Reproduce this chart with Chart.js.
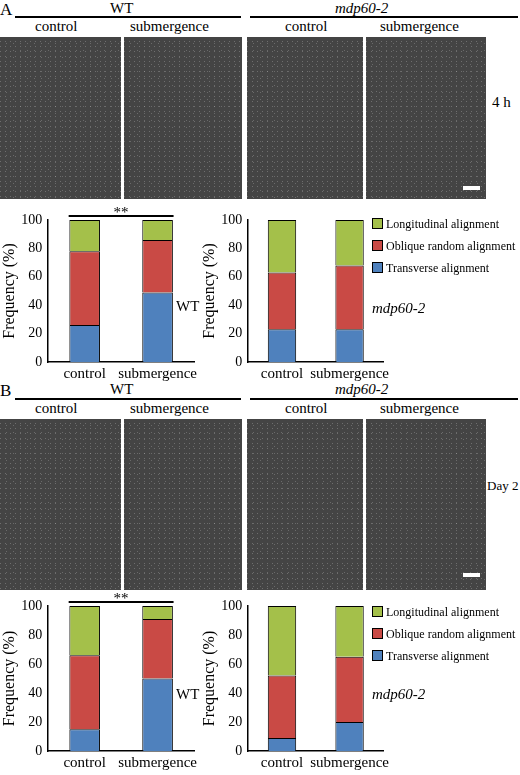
<!DOCTYPE html>
<html lang="en">
<head>
<meta charset="UTF-8">
<title>Microtubule alignment</title>
<script src="https://cdn.jsdelivr.net/npm/chart.js@4.4.0/dist/chart.umd.min.js"></script>
<style>
  body { margin:0; width:520px; height:775px; position:relative; background:#fff; font-family:"Liberation Serif", "Times New Roman", serif; overflow:hidden; }
  .abs { position:absolute; }
  .img { position:absolute; background:#444; background-image:linear-gradient(60deg, rgba(210,210,210,.3) 1px, transparent 1px), linear-gradient(-50deg, rgba(220,220,220,.25) 1px, transparent 1px); background-size:5px 5px, 7px 7px; }
  .t { position:absolute; font-size:15px; color:#000; white-space:nowrap; font-family:"Liberation Serif", serif; }
  .line { position:absolute; height:2px; background:#000; }
  .leg { position:absolute; font-size:12px; white-space:nowrap; font-family:"Liberation Serif", serif; }
  .leg span { display:inline-block; width:9px; height:9px; border:1px solid #000; margin-right:3px; vertical-align:-1px; }
  .cv { position:absolute; }
</style>
</head>
<body>
<!-- panel A header -->
<div class="t" style="left:0;top:0;font-size:17px">A</div>
<div class="t" style="left:110px;top:0">WT</div>
<div class="line" style="left:15px;top:16px;width:226px"></div>
<div class="t" style="left:335px;top:0;font-style:italic">mdp60-2</div>
<div class="line" style="left:250px;top:16px;width:268px"></div>
<div class="t" style="left:35px;top:18px">control</div>
<div class="t" style="left:130px;top:18px">submergence</div>
<div class="t" style="left:285px;top:18px">control</div>
<div class="t" style="left:380px;top:18px">submergence</div>
<div class="img" style="left:0;top:37px;width:121px;height:162px"></div>
<div class="img" style="left:124px;top:37px;width:118px;height:162px"></div>
<div class="img" style="left:247px;top:37px;width:116px;height:162px"></div>
<div class="img" style="left:366px;top:37px;width:120px;height:162px"></div>
<div class="abs" style="left:463px;top:186px;width:17px;height:4px;background:#fff"></div>
<div class="t" style="left:492px;top:94px">4 h</div>

<!-- panel B header -->
<div class="t" style="left:0;top:381px;font-size:17px">B</div>
<div class="t" style="left:110px;top:381px">WT</div>
<div class="line" style="left:15px;top:398px;width:226px"></div>
<div class="t" style="left:335px;top:381px;font-style:italic">mdp60-2</div>
<div class="line" style="left:250px;top:398px;width:268px"></div>
<div class="t" style="left:35px;top:400px">control</div>
<div class="t" style="left:130px;top:400px">submergence</div>
<div class="t" style="left:285px;top:400px">control</div>
<div class="t" style="left:380px;top:400px">submergence</div>
<div class="img" style="left:0;top:419px;width:121px;height:171px"></div>
<div class="img" style="left:124px;top:419px;width:118px;height:171px"></div>
<div class="img" style="left:247px;top:419px;width:116px;height:171px"></div>
<div class="img" style="left:366px;top:419px;width:120px;height:171px"></div>
<div class="abs" style="left:463px;top:573px;width:17px;height:4px;background:#fff"></div>
<div class="t" style="left:487px;top:478px;font-size:13px">Day 2</div>

<canvas class="cv" id="a1" style="left:0;top:206px"></canvas>
<canvas class="cv" id="a2" style="left:200px;top:206px"></canvas>
<canvas class="cv" id="b1" style="left:0;top:592px"></canvas>
<canvas class="cv" id="b2" style="left:200px;top:592px"></canvas>

<div class="t" style="left:176px;top:298px">WT</div>
<div class="t" style="left:372px;top:300px;font-style:italic">mdp60-2</div>
<div class="t" style="left:176px;top:686px">WT</div>
<div class="t" style="left:372px;top:686px;font-style:italic">mdp60-2</div>

<div class="leg" style="left:372px;top:217px"><span style="background:#a4c04a"></span>Longitudinal alignment</div>
<div class="leg" style="left:372px;top:239px"><span style="background:#c94a45"></span>Oblique random alignment</div>
<div class="leg" style="left:372px;top:261px"><span style="background:#4f81bd"></span>Transverse alignment</div>
<div class="leg" style="left:372px;top:605px"><span style="background:#a4c04a"></span>Longitudinal alignment</div>
<div class="leg" style="left:372px;top:627px"><span style="background:#c94a45"></span>Oblique random alignment</div>
<div class="leg" style="left:372px;top:649px"><span style="background:#4f81bd"></span>Transverse alignment</div>

<script>
const categories = ['control', 'submergence'];
const yTicks = [0, 20, 40, 60, 80, 100];

// panel A (4 h): transverse / oblique / longitudinal, in percent
const aWtTransverse = [26, 49];
const aWtOblique = [52, 37];
const aWtLongitudinal = [22, 14];
const aMdpTransverse = [23, 23];
const aMdpOblique = [40, 45];
const aMdpLongitudinal = [37, 32];

// panel B (day 2)
const bWtTransverse = [15, 50];
const bWtOblique = [51, 41];
const bWtLongitudinal = [34, 9];
const bMdpTransverse = [9, 20];
const bMdpOblique = [43, 45];
const bMdpLongitudinal = [48, 35];

const colors = ['#4f81bd', '#c94a45', '#a4c04a'];

// draws the ** bracket over the WT bars
const starsPlugin = {
  id: 'stars',
  afterDraw(chart) {
    if (!chart.options.plugins.stars.on) return;
    const ctx = chart.ctx;
    const x = chart.scales.x;
    const y = chart.scales.y.getPixelForValue(100) - 4;
    ctx.save();
    ctx.strokeStyle = '#000';
    ctx.lineWidth = 2;
    ctx.beginPath();
    ctx.moveTo(x.getPixelForValue(0) - 16, y);
    ctx.lineTo(x.getPixelForValue(1) + 16, y);
    ctx.stroke();
    ctx.fillStyle = '#000';
    ctx.font = '15px "Liberation Serif"';
    ctx.textAlign = 'center';
    ctx.fillText('**', (x.getPixelForValue(0) + x.getPixelForValue(1)) / 2, y + 1);
    ctx.restore();
  }
};

function makeChart(id, t, o, l, stars, w, h) {
  const el = document.getElementById(id);
  el.width = w; el.height = h;
  el.style.width = w + 'px'; el.style.height = h + 'px';
  new Chart(el, {
    type: 'bar',
    data: {
      labels: categories,
      datasets: [t, o, l].map((d, i) => ({
        data: d, backgroundColor: colors[i], borderColor: '#000', borderWidth: 1,
        barPercentage: 0.42, categoryPercentage: 1
      }))
    },
    options: {
      responsive: false, animation: false,
      layout: { padding: { top: 14, right: 0 } },
      plugins: { legend: { display: false }, tooltip: { enabled: false }, stars: { on: stars } },
      scales: {
        x: { stacked: true, grid: { display: false, drawTicks: false },
             border: { color: '#000', width: 1.5 },
             ticks: { color: '#000', font: { family: 'Liberation Serif', size: 15 }, padding: 3, maxRotation: 0, minRotation: 0, autoSkip: false } },
        y: { stacked: true, min: 0, max: 100,
             afterBuildTicks: s => { s.ticks = yTicks.map(v => ({ value: v })); },
             grid: { display: false, drawTicks: true, tickLength: 4, color: '#000' },
             border: { color: '#000', width: 1.5 },
             title: { display: true, text: 'Frequency (%)', color: '#000', font: { family: 'Liberation Serif', size: 16 }, padding: 0 },
             ticks: { color: '#000', font: { family: 'Liberation Serif', size: 14 }, padding: 2 } }
      }
    },
    plugins: [starsPlugin]
  });
}

makeChart('a1', aWtTransverse, aWtOblique, aWtLongitudinal, true, 200, 180);
makeChart('a2', aMdpTransverse, aMdpOblique, aMdpLongitudinal, false, 192, 180);
makeChart('b1', bWtTransverse, bWtOblique, bWtLongitudinal, true, 200, 183);
makeChart('b2', bMdpTransverse, bMdpOblique, bMdpLongitudinal, false, 192, 183);
</script>
</body>
</html>
